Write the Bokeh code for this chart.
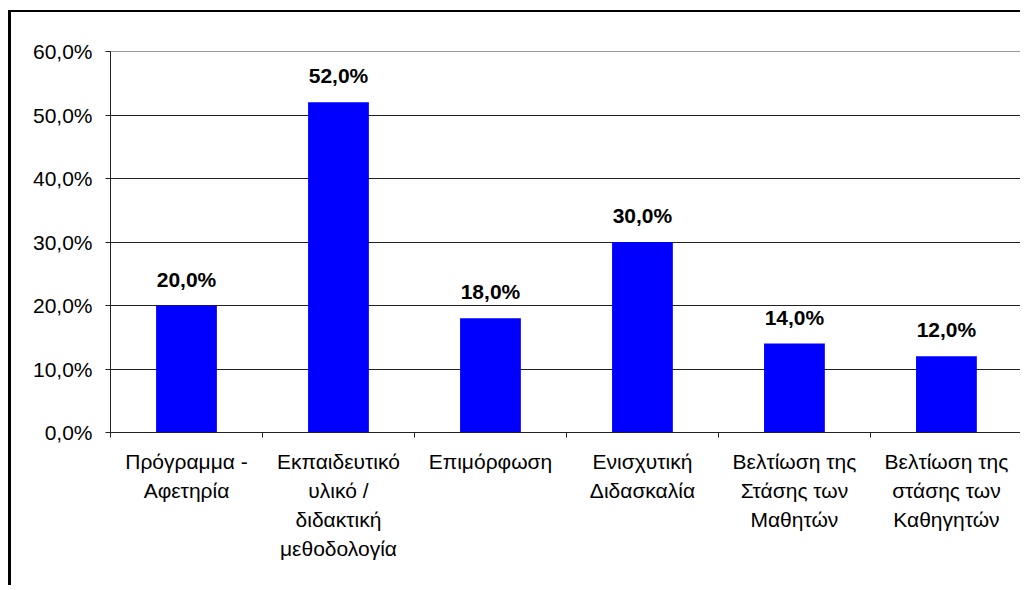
import numpy as np
from bokeh.plotting import figure
from bokeh.models import ColumnDataSource, FixedTicker, LabelSet, LinearAxis
from bokeh.core.properties import value
from bokeh.embed import file_html
from bokeh.resources import INLINE

categories = ["Πρόγραμμα -\nΑφετηρία",
              "Εκπαιδευτικό\nυλικό /\nδιδακτική\nμεθοδολογία",
              "Επιμόρφωση",
              "Ενισχυτική\nΔιδασκαλία",
              "Βελτίωση της\nΣτάσης των\nΜαθητών",
              "Βελτίωση της\nστάσης των\nΚαθηγητών"]
values = [20.0, 52.0, 18.0, 30.0, 14.0, 12.0]
y_ticks = [0, 10, 20, 30, 40, 50, 60]

FONT = "Liberation Sans"
FS = "21px"

def fmt(v):
    return f"{v:.1f}".replace(".", ",") + "%"

n = len(categories)
xs = [i + 0.5 for i in range(n)]
src = ColumnDataSource(dict(x=xs, top=values, lab=[fmt(v) for v in values]))
lines = [c.split("\n") for c in categories]
nlines = max(len(l) for l in lines)

p = figure(width=1012, height=575, output_backend="svg", toolbar_location=None,
           x_range=(0, n + 0.0005), y_range=(0, 60),
           min_border_left=99, min_border_right=1, min_border_top=39, min_border_bottom=155)
p.styles = {"margin-left": "8px", "margin-top": "10px",
            "border-left": "3px solid black", "border-top": "2px solid black"}
p.background_fill_color = "white"
p.border_fill_color = "white"
p.outline_line_color = "#999999"
p.outline_line_width = 1

p.vbar(x="x", top="top", width=0.4, source=src, fill_color="#0000FF", line_color=None)

labels = LabelSet(x="x", y="top", text="lab", source=src, text_align="center",
                  text_baseline="alphabetic", y_offset=19, text_font=value(FONT),
                  text_font_size=FS, text_font_style="bold", text_color="black")
p.add_layout(labels)

# y axis
p.yaxis.ticker = FixedTicker(ticks=y_ticks)
p.yaxis.major_label_overrides = {t: fmt(t) for t in y_ticks}
p.yaxis.minor_tick_line_color = None
p.yaxis.major_tick_out = 5
p.yaxis.major_tick_in = 0
p.yaxis.major_label_standoff = 13
p.yaxis.axis_line_color = "#222222"
p.yaxis.major_tick_line_color = "#222222"
p.yaxis.major_label_text_font = FONT
p.yaxis.major_label_text_font_size = FS
p.yaxis.major_label_text_color = "black"

# x axis: ticks at category boundaries, first label line
xa = p.xaxis[0]
xa.ticker = FixedTicker(ticks=xs, minor_ticks=list(range(n + 1)))
xa.major_label_overrides = {x: l[0] for x, l in zip(xs, lines)}
xa.major_tick_out = 0
xa.major_tick_in = 0
xa.minor_tick_out = 5
xa.minor_tick_in = 0
xa.minor_tick_line_color = "#222222"
xa.axis_line_color = "#222222"
xa.major_label_standoff = 12
xa.major_label_text_font = FONT
xa.major_label_text_font_size = FS
xa.major_label_text_color = "black"

# further label lines as stacked label-only axes
for k in range(1, nlines):
    ax = LinearAxis(ticker=FixedTicker(ticks=xs),
                    major_label_overrides={x: (l[k] if k < len(l) else " ") for x, l in zip(xs, lines)},
                    axis_line_color=None, major_tick_line_color=None, minor_tick_line_color=None,
                    major_tick_out=0, major_tick_in=0, minor_tick_out=0, minor_tick_in=0,
                    major_label_standoff=3, major_label_text_font=FONT,
                    major_label_text_font_size=FS, major_label_text_color="black")
    p.add_layout(ax, "below")

p.xgrid.grid_line_color = None
p.ygrid.ticker = FixedTicker(ticks=[10, 20, 30, 40, 50])
p.ygrid.grid_line_color = "#222222"
p.ygrid.grid_line_width = 1

open("out.html", "w").write(file_html(p, INLINE))
